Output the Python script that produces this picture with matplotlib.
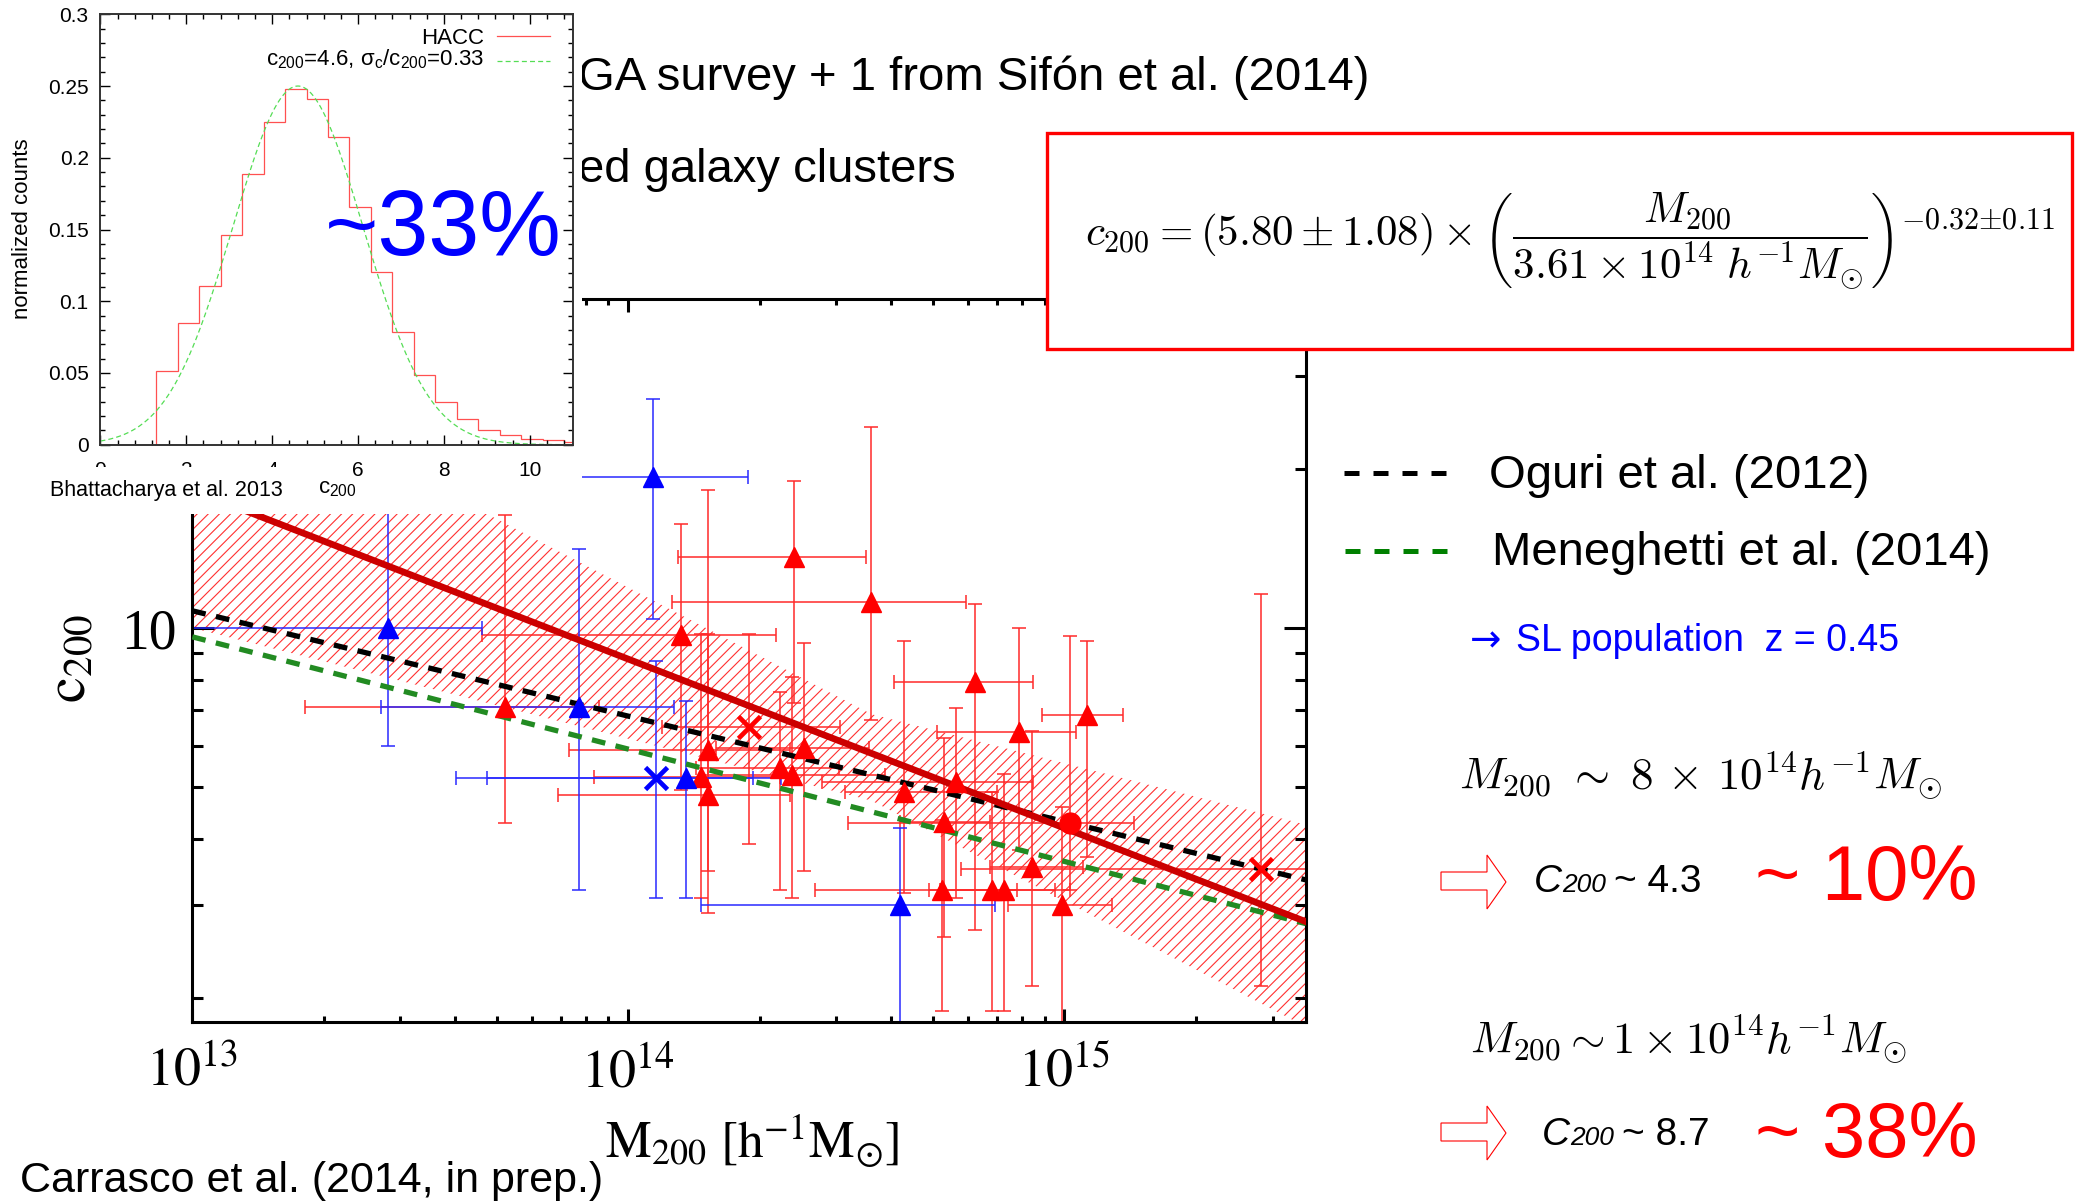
import numpy as np
import matplotlib
matplotlib.use("Agg")
import matplotlib.pyplot as plt
from matplotlib.patches import Rectangle, Polygon
from matplotlib.lines import Line2D
from matplotlib.ticker import LogLocator, NullFormatter, FixedLocator, MultipleLocator

W, H, DPI = 2080, 1204, 100

plt.rcParams["font.family"] = ["Liberation Sans", "DejaVu Sans"]
plt.rcParams["mathtext.fontset"] = "stix"
plt.rcParams["hatch.linewidth"] = 0.8
plt.rcParams["hatch.color"] = "#ff3030"

# ---------------- data: c200 - M200 relation ----------------
# red triangles: M200 [h^-1 Msun], c200 and the ends of their error bars
tri_red_m = [5.22e13, 1.32e14, 1.47e14, 1.525e14, 1.525e14, 2.23e14, 2.37e14, 2.525e14,
             4.28e14, 6.24e14, 1.125e15, 7.85e14, 5.64e14, 5.28e14, 8.42e14, 5.24e14,
             6.82e14, 7.25e14, 9.86e14, 2.40e14, 3.60e14]
tri_red_c = [7.10, 9.71, 5.24, 5.88, 4.83, 5.43, 5.28, 5.93, 4.90, 7.92, 6.85, 6.37,
             5.12, 4.30, 3.54, 3.20, 3.20, 3.20, 2.99, 13.67, 11.23]
tri_red_mlo = [1.81e13, 4.61e13, 8.34e13, 7.31e13, 6.91e13, 1.426e14, 1.464e14, 1.585e14,
               3.146e14, 4.058e14, 8.88e14, 5.10e14, 2.78e14, 4.205e14, 6.76e14, 2.685e14,
               4.88e14, 5.19e14, 7.43e14, 1.30e14, 1.261e14]
tri_red_mhi = [8.57e13, 2.175e14, 2.23e14, 2.353e14, 2.353e14, 3.036e14, 3.885e14, 3.557e14,
               7.0e14, 8.45e14, 1.36e15, 1.062e15, 8.49e14, 6.76e14, 1.105e15, 9.52e14,
               7.78e14, 1.031e15, 1.288e15, 3.515e14, 5.945e14]
tri_red_clo = [4.28, 4.94, 3.09, 2.89, 3.48, 3.19, 3.09, 3.48, 3.15, 2.69, 3.69, 3.80,
               3.09, 2.60, 2.10, 1.89, 1.89, 1.89, 1.5, 7.21, 6.70]
tri_red_chi = [16.39, 15.76, 9.78, 18.27, 9.78, 7.58, 8.10, 9.39, 9.47, 11.10, 9.47, 10.0,
               7.07, 6.19, 6.39, 4.33, 4.89, 5.29, 4.59, 19.01, 24.03]

# red crosses
x_red_m = [1.89e14, 2.83e15]
x_red_c = [6.51, 3.51]
x_red_mlo = [1.197e14, 5.79e14]
x_red_mhi = [3.064e14, 5.0e15]
x_red_clo = [3.90, 2.10]
x_red_chi = [9.78, 11.60]

# red circle
o_red_m = [1.031e15]
o_red_c = [4.29]
o_red_mlo = [3.19e14]
o_red_mhi = [1.446e15]
o_red_clo = [3.19]
o_red_chi = [9.68]

# blue triangles
tri_blue_m = [2.81e13, 7.71e13, 1.14e14, 1.353e14, 4.19e14]
tri_blue_c = [10.0, 7.10, 19.37, 5.20, 2.99]
tri_blue_mlo = [8.0e12, 2.71e13, 5.0e13, 4.74e13, 1.47e14]
tri_blue_mhi = [4.61e13, 1.272e14, 1.88e14, 2.244e14, 6.915e14]
tri_blue_clo = [5.98, 3.19, 10.40, 3.09, 1.5]
tri_blue_chi = [28.0, 14.11, 27.2, 7.29, 4.18]

# blue cross
x_blue_m = [1.155e14]
x_blue_c = [5.20]
x_blue_mlo = [4.02e13]
x_blue_mhi = [1.927e14]
x_blue_clo = [3.09]
x_blue_chi = [8.68]

# best fit c200 = A (M/Mpiv)^B
fit_A, fit_dA = 5.80, 1.08
fit_B, fit_dB = -0.32, 0.11
fit_pivot = 3.61e14

# literature relations (end values over the plotted mass range)
model_m = [1.0e13, 3.58e15]
oguri_c = [10.8, 3.34]
meneghetti_c = [9.64, 2.76]

xtick_vals = [1e13, 1e14, 1e15]
xtick_labels = [r"$10^{13}$", r"$10^{14}$", r"$10^{15}$"]
ytick_vals = [10]
ytick_labels = ["10"]

# ---------------- data: HACC concentration histogram ----------------
hist_edges = [1.3, 1.8, 2.3, 2.8, 3.3, 3.8, 4.3, 4.8, 5.3, 5.8, 6.3, 6.8, 7.3, 7.8,
              8.3, 8.8, 9.3, 9.8, 10.3, 10.8, 11.3]
hist_counts = [0.0511, 0.0848, 0.1105, 0.1465, 0.1885, 0.2248, 0.2478, 0.2410, 0.2143,
               0.1656, 0.1203, 0.0784, 0.0485, 0.0295, 0.0178, 0.0104, 0.0068, 0.0041,
               0.0030, 0.0019]
gauss_mean = 4.6
gauss_scatter = 0.33
gauss_peak = 0.25
inset_xticks = [0, 2, 4, 6, 8, 10]
inset_yticks = [0, 0.05, 0.1, 0.15, 0.2, 0.25, 0.3]
inset_ytick_labels = ["0", "0.05", "0.1", "0.15", "0.2", "0.25", "0.3"]


def fx(px):
    return px / W


def fy(py):
    return 1.0 - py / H


fig = plt.figure(figsize=(W / DPI, H / DPI), dpi=DPI)
fig.patch.set_facecolor("white")

# ---------------- main c200 - M200 panel ----------------
ax = fig.add_axes([fx(192.3), fy(1021.7), fx(1306) - fx(192.3), fy(299.3) - fy(1021.7)],
                  zorder=0)
ax.set_xscale("log")
ax.set_yscale("log")
ax.set_xlim(1e13, 3.58e15)
ax.set_ylim(1.8, 42)

mgrid = np.logspace(13, np.log10(3.58e15), 400)
ratio = mgrid / fit_pivot
corners = np.array([a * ratio ** b
                    for a in (fit_A - fit_dA, fit_A + fit_dA)
                    for b in (fit_B - fit_dB, fit_B + fit_dB)])
ax.fill_between(mgrid, corners.min(axis=0), corners.max(axis=0),
                facecolor="none", edgecolor="#ff3030", hatch="///", linewidth=0, zorder=1)


def draw_set(m, c, mlo, mhi, clo, chi, marker, color, ecolor, ms, mew=1.0):
    m = np.asarray(m)
    c = np.asarray(c)
    xerr = [m - np.asarray(mlo), np.asarray(mhi) - m]
    yerr = [c - np.asarray(clo), np.asarray(chi) - c]
    ax.errorbar(m, c, xerr=xerr, yerr=yerr, fmt="none", ecolor=ecolor,
                elinewidth=1.1, capsize=4.7, capthick=1.1, zorder=2)
    ax.plot(m, c, linestyle="none", marker=marker, ms=ms, color=color, mew=mew, zorder=5)


ax.plot(mgrid, fit_A * ratio ** fit_B, color="#cc0000", lw=4.8, zorder=4)
ax.plot(model_m, oguri_c, color="black", lw=3.8, dashes=(2.6, 2.0), zorder=3)
ax.plot(model_m, meneghetti_c, color="#228B22", lw=3.8, dashes=(2.6, 2.0), zorder=3)

draw_set(tri_red_m, tri_red_c, tri_red_mlo, tri_red_mhi, tri_red_clo, tri_red_chi,
         "^", "#ff0000", "#ff2a2a", 15)
draw_set(x_red_m, x_red_c, x_red_mlo, x_red_mhi, x_red_clo, x_red_chi,
         "x", "#ff0000", "#ff2a2a", 16, mew=3.4)
draw_set(o_red_m, o_red_c, o_red_mlo, o_red_mhi, o_red_clo, o_red_chi,
         "o", "#ff0000", "#ff2a2a", 15)
draw_set(tri_blue_m, tri_blue_c, tri_blue_mlo, tri_blue_mhi, tri_blue_clo, tri_blue_chi,
         "^", "#0000ff", "#2a2aff", 15)
draw_set(x_blue_m, x_blue_c, x_blue_mlo, x_blue_mhi, x_blue_clo, x_blue_chi,
         "x", "#0000ff", "#2a2aff", 16, mew=3.4)

ax.xaxis.set_major_locator(FixedLocator(xtick_vals))
ax.set_xticklabels(xtick_labels)
ax.xaxis.set_minor_locator(LogLocator(base=10, subs=np.arange(2, 10), numticks=30))
ax.xaxis.set_minor_formatter(NullFormatter())
ax.yaxis.set_major_locator(FixedLocator(ytick_vals))
ax.set_yticklabels(ytick_labels)
ax.yaxis.set_minor_locator(LogLocator(base=10, subs=np.arange(2, 10), numticks=30))
ax.yaxis.set_minor_formatter(NullFormatter())
ax.tick_params(which="both", direction="in", top=True, right=True, width=2.2, color="black")
ax.tick_params(axis="x", which="major", length=9.4, pad=18, labelsize=39)
ax.tick_params(axis="x", which="minor", length=4.3)
ax.tick_params(axis="y", which="major", length=16, pad=11.5, labelsize=40,
               labelfontfamily="Liberation Serif")
ax.tick_params(axis="y", which="minor", length=8)
for sp in ax.spines.values():
    sp.set_linewidth(2.2)

fig.text(fx(752), fy(1157), r"$\mathrm{M_{200}\ [h^{-1}M_{\odot}]}$", fontsize=37,
         ha="center", va="baseline")
fig.text(fx(71), fy(658), r"$\mathrm{c_{200}}$", fontsize=42, rotation=90,
         ha="center", va="center")

# ---------------- slide text behind the inset ----------------
fig.text(fx(578), fy(90), "GA survey + 1 from Sifón et al. (2014)", fontsize=34,
         va="baseline", zorder=0.5)
fig.text(fx(578), fy(182), "ed galaxy clusters", fontsize=34, va="baseline", zorder=0.5)

# ---------------- inset: HACC c200 distribution ----------------
fig.add_artist(Rectangle((0, fy(514)), fx(582), 1 - fy(514), transform=fig.transFigure,
                         facecolor="white", edgecolor="none", zorder=1.5))
ax_in = fig.add_axes([fx(100.4), fy(444.7), fx(572.8) - fx(100.4), fy(14.3) - fy(444.7)],
                     zorder=2)
ax_in.stairs(hist_counts, hist_edges, color="#ff5050", lw=0.9, baseline=0)
cg = np.linspace(0, 11, 400)
ax_in.plot(cg, gauss_peak * np.exp(-0.5 * ((cg - gauss_mean) / (gauss_scatter * gauss_mean)) ** 2),
           color="#55dd55", lw=0.9, dashes=(4, 2.5))
ax_in.set_xlim(0, 11)
ax_in.set_ylim(0, 0.3)
ax_in.set_xticks(inset_xticks)
ax_in.set_yticks(inset_yticks, inset_ytick_labels)
ax_in.xaxis.set_minor_locator(MultipleLocator(0.4))
ax_in.yaxis.set_minor_locator(MultipleLocator(0.01))
narrow = ["Liberation Sans Narrow", "Liberation Sans", "DejaVu Sans"]
ax_in.tick_params(which="both", direction="in", top=True, right=True, width=1.0,
                  labelsize=15, labelfontfamily=narrow)
ax_in.tick_params(which="major", length=7)
ax_in.tick_params(which="minor", length=3.5)
ax_in.tick_params(axis="x", pad=12)
ax_in.tick_params(axis="y", pad=8.4)
for sp in ax_in.spines.values():
    sp.set_linewidth(1.4)
    sp.set_color("#333333")

ax_in.plot([0.839, 0.952], [0.9496, 0.9496], transform=ax_in.transAxes, color="#ff5050", lw=0.9)
ax_in.text(0.812, 0.931, "HACC", transform=ax_in.transAxes, ha="right", va="baseline",
           fontsize=16, family=narrow)
ax_in.plot([0.839, 0.952], [0.8915, 0.8915], transform=ax_in.transAxes, color="#55dd55",
           lw=0.9, dashes=(4, 2.5))
ax_in.text(0.812, 0.882,
           r"c$\mathregular{_{200}}$=4.6, σ$\mathregular{_c}$/c$\mathregular{_{200}}$=0.33",
           transform=ax_in.transAxes, ha="right", va="baseline", fontsize=16, family=narrow)

fig.text(fx(23), fy(229), "normalized counts", fontsize=16, rotation=90, ha="center",
         va="center", family=narrow, zorder=3)
fig.text(fx(337), fy(493), r"c$\mathregular{_{200}}$", fontsize=16, ha="center",
         va="baseline", family=narrow, zorder=3)
fig.add_artist(Rectangle((0, fy(514)), fx(300), fy(467) - fy(514), transform=fig.transFigure,
                         facecolor="white", edgecolor="none", zorder=3.5))
fig.text(fx(50), fy(495.7), "Bhattacharya et al. 2013", fontsize=15.5, va="baseline", zorder=4)
fig.text(fx(325), fy(255), "~33%", fontsize=66, color="#0000ff", va="baseline", zorder=4)

# ---------------- fitted relation box ----------------
fig.add_artist(Rectangle((fx(1046.6), fy(349)), fx(2072) - fx(1046.6), fy(133.3) - fy(349),
                         transform=fig.transFigure, facecolor="white", edgecolor="#ff0000",
                         linewidth=2.4, zorder=1))
fig.text(fx(1085), fy(241), r"$c_{200} = (5.80 \pm 1.08) \times "
         r"\left(\dfrac{M_{200}}{3.61\times10^{14}\;h^{-1}M_{\odot}}\right)^{-0.32{\pm}0.11}$",
         fontsize=31, va="center", ha="left", math_fontfamily="cm", zorder=3)

# ---------------- legend and notes on the right ----------------
fig.add_artist(Line2D([fx(1344), fx(1446)], [fy(472.5), fy(472.5)], transform=fig.transFigure,
                      color="black", lw=3.6, dashes=(3, 2.8)))
fig.text(fx(1489), fy(487.5), "Oguri et al. (2012)", fontsize=34, va="baseline")
fig.add_artist(Line2D([fx(1345), fx(1447)], [fy(551), fy(551)], transform=fig.transFigure,
                      color="#008000", lw=3.6, dashes=(3, 2.8)))
fig.text(fx(1491.5), fy(565), "Meneghetti et al. (2014)", fontsize=34, va="baseline")

fig.text(fx(1470), fy(651), "→", fontsize=27, color="#0000ff", va="baseline",
         family=["DejaVu Sans"])
fig.text(fx(1516), fy(651), "SL population  z = 0.45", fontsize=27, color="#0000ff",
         va="baseline")

fig.text(fx(1459), fy(789), r"$M_{200}\ \sim\ 8\,\times\,10^{14}h^{-1}M_{\odot}$",
         fontsize=32.5, va="baseline", math_fontfamily="cm")
fig.text(fx(1470), fy(1054), r"$M_{200}\sim 1\times10^{14}h^{-1}M_{\odot}$",
         fontsize=32, va="baseline", math_fontfamily="cm")


def hollow_arrow(cy):
    pts = [(1441, cy - 10), (1487, cy - 10), (1487, cy - 27), (1506, cy),
           (1487, cy + 27), (1487, cy + 8), (1441, cy + 8)]
    fig.add_artist(Polygon([(fx(px), fy(py)) for px, py in pts], closed=True,
                           transform=fig.transFigure, facecolor="white",
                           edgecolor="#ff0000", linewidth=0.8))


hollow_arrow(882)
hollow_arrow(1133)

for cx, c200x, restx, base, val in [(1534, 1562.5, 1614, 892.5, "~ 4.3"),
                                     (1542, 1570.5, 1622.5, 1145, "~ 8.7")]:
    fig.text(fx(cx), fy(base), "C", fontsize=28, style="italic", va="baseline")
    fig.text(fx(c200x), fy(base), "200", fontsize=19, style="italic", va="baseline")
    fig.text(fx(restx), fy(base), val, fontsize=28, va="baseline")

fig.text(fx(1755), fy(900), "~ 10%", fontsize=56, color="#ff0000", va="baseline")
fig.text(fx(1755), fy(1157.5), "~ 38%", fontsize=56, color="#ff0000", va="baseline")

fig.text(fx(20), fy(1192), "Carrasco et al. (2014, in prep.)", fontsize=31, va="baseline")

fig.savefig("out.png", dpi=DPI, facecolor="white")
